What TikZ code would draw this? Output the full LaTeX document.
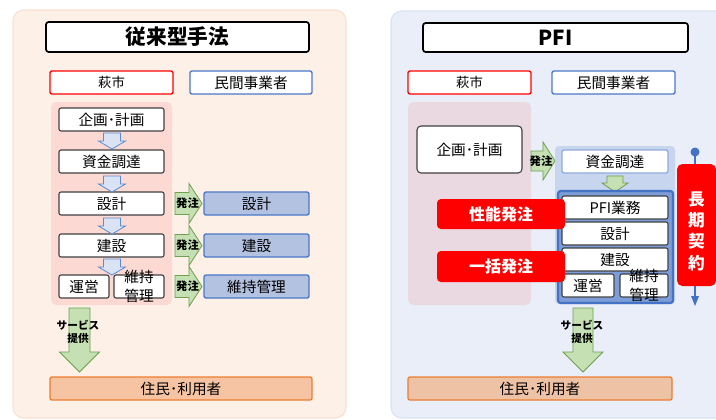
\documentclass[tikz,border=0pt]{standalone}
\usepackage{fontspec}
\setmainfont{Noto Sans CJK JP}
\usetikzlibrary{fit}
\definecolor{leftbg}{HTML}{FDF0E7}
\definecolor{leftbd}{HTML}{F9E0D0}
\definecolor{rightbg}{HTML}{E9EEF8}
\definecolor{rightbd}{HTML}{D9E2F3}
\definecolor{pinkL}{HTML}{FCD9D3}
\definecolor{pinkR}{HTML}{EAD9E0}
\definecolor{bluereg}{HTML}{C8D5EE}
\definecolor{arrblue}{HTML}{DAE3F3}
\definecolor{arrbluebd}{HTML}{5B8BD0}
\definecolor{grnfill}{HTML}{C5E0B3}
\definecolor{grnbd}{HTML}{6F9F50}
\definecolor{bboxfill}{HTML}{B4C2E1}
\definecolor{bboxbd}{HTML}{4A78C8}
\definecolor{orfill}{HTML}{F6C4A2}
\definecolor{orfillR}{HTML}{EEC2A4}
\definecolor{orbd}{HTML}{ED7D31}
\definecolor{frameblue}{HTML}{7C9DD7}
\definecolor{framebd}{HTML}{4472C4}
\definecolor{lightbd}{HTML}{8FAADC}
\definecolor{pfired}{HTML}{FF0000}
\definecolor{gbd}{HTML}{404040}
\newcommand\downarr[7]{\draw[#1] ({#2-#6},#3) -- ({#2+#6},#3) -- ({#2+#6},#4) -- ({#2+#7},#4) -- (#2,#5) -- ({#2-#7},#4) -- ({#2-#6},#4) -- cycle;}
\newcommand\rightarr[7]{\draw[#1] (#3,{#2-#6}) -- (#4,{#2-#6}) -- (#4,{#2-#7}) -- (#5,#2) -- (#4,{#2+#7}) -- (#4,{#2+#6}) -- (#3,{#2+#6}) -- cycle;}
% box: style, fit corners, name, text, text style
\newcommand\bx[5]{\node[#1, fit={#2}] (#3) {}; \node[#5] (#3t) at (#3.center) {#4};}
\tikzset{
  fitbox/.style={inner sep=0pt, outer sep=0pt},
  titlebox/.style={fitbox, draw=black, line width=1.3pt, fill=white, rounded corners=2pt},
  citybox/.style={fitbox, draw=pfired, line width=1pt, fill=white, rounded corners=1.5pt},
  privbox/.style={fitbox, draw=bboxbd, line width=1pt, fill=white, rounded corners=1.5pt},
  stepbox/.style={fitbox, draw=gbd, line width=0.8pt, fill=white, rounded corners=1.5pt},
  bluebox/.style={fitbox, draw=bboxbd, line width=1pt, fill=bboxfill, rounded corners=1.5pt},
  userbox/.style={fitbox, draw=orbd, line width=1pt, rounded corners=1.5pt},
  redbox/.style={fitbox, fill=pfired, rounded corners=3pt},
  ttl/.style={inner sep=0pt, font=\fontsize{15.5}{18}\selectfont\bfseries},
  txt/.style={inner sep=0pt, align=center, font=\fontsize{11}{13}\selectfont},
  txts/.style={inner sep=0pt, align=center, font=\fontsize{10}{12}\selectfont},
  txtm/.style={inner sep=0pt, align=center, font=\fontsize{11}{14}\selectfont},
  redtxt/.style={inner sep=0pt, text=white, font=\fontsize{12}{15}\selectfont\bfseries},
  smalllbl/.style={inner sep=0pt, font=\fontsize{8.5}{10}\selectfont\bfseries, align=center},
  svclbl/.style={inner sep=0pt, font=\fontsize{8}{9.8}\selectfont\bfseries, align=center},
  darr/.style={fill=arrblue, draw=arrbluebd, line width=0.6pt, line join=miter},
  garr/.style={fill=grnfill, draw=grnbd, line width=0.6pt, line join=miter},
}
\begin{document}
\begin{tikzpicture}[x=0.75pt, y=-0.75pt]
\useasboundingbox (0,0) rectangle (716,419);
% panels
\draw[fill=leftbg, draw=leftbd, line width=0.8pt, rounded corners=8pt] (13,10) rectangle (346,418);
\draw[fill=rightbg, draw=rightbd, line width=0.8pt, rounded corners=8pt] (391,11) rectangle (730,418);

% ===== LEFT =====
\bx{titlebox}{(46,22) (309,52)}{ltitle}{従来型手法}{ttl}
\bx{citybox}{(50,71) (173,94)}{lcity}{萩市}{txts}
\bx{privbox}{(190,71) (312,94)}{lpriv}{民間事業者}{txt}
\fill[pinkL, rounded corners=4pt] (51,102) rectangle (172,305);
\bx{stepbox}{(59,108) (164,131)}{lplan}{企画･計画}{txt}
\bx{stepbox}{(59,150) (164,173)}{lfund}{資金調達}{txt}
\bx{stepbox}{(59,192) (164,215)}{ldes}{設計}{txt}
\bx{stepbox}{(59,234) (164,257)}{lcon}{建設}{txt}
\bx{stepbox}{(59,275) (109,298)}{lop}{運営}{txt}
\bx{stepbox}{(114,275) (164,298)}{lmt}{維持\\管理}{txtm}
\downarr{darr}{112}{133}{141}{149}{8.5}{13.5}
\downarr{darr}{112}{176}{184}{192}{8.5}{13.5}
\downarr{darr}{112}{218}{226}{234}{8.5}{13.5}
\downarr{darr}{112}{259}{267}{275}{8.5}{13.5}
\rightarr{garr}{203.5}{175}{189}{202}{11}{20}
\rightarr{garr}{245.5}{175}{189}{202}{11}{20}
\rightarr{garr}{286.5}{175}{189}{202}{11}{20}
\node[smalllbl] (lord1) at (187.5,203) {発注};
\node[smalllbl] (lord2) at (187.5,245) {発注};
\node[smalllbl] (lord3) at (187.5,286) {発注};
\bx{bluebox}{(204,192) (309,215)}{pdes}{設計}{txt}
\bx{bluebox}{(204,234) (309,257)}{pcon}{建設}{txt}
\bx{bluebox}{(204,275) (309,298)}{pmt}{維持管理}{txt}
\downarr{garr}{79.5}{308}{352}{372}{10.5}{20}
\node[svclbl] (lsvc) at (78,332) {サービス\\提供};
\bx{userbox, fill=orfill}{(50,377) (312,400)}{lusers}{住民･利用者}{txt}

% ===== RIGHT =====
\bx{titlebox}{(423,23) (688,52)}{rtitle}{PFI}{ttl}
\bx{citybox}{(408,71) (531,94)}{rcity}{萩市}{txts}
\bx{privbox}{(552,71) (675,94)}{rpriv}{民間事業者}{txt}
\fill[pinkR, rounded corners=4pt] (408,102) rectangle (531,305);
\bx{stepbox, rounded corners=3pt}{(417,126) (522,173)}{rplan}{企画･計画}{txt}
\rightarr{garr}{161}{531}{543}{555}{10}{19}
\node[smalllbl] (rord) at (541,161) {発注};
\fill[bluereg, rounded corners=3pt] (555,146) rectangle (675,304);
\bx{fitbox, draw=lightbd, line width=1pt, fill=white, rounded corners=1.5pt}{(562,150) (668,173)}{rfund}{資金調達}{txt}
\downarr{garr}{615}{176}{183}{192}{8}{13}
\draw[fill=frameblue, draw=framebd, line width=1.6pt, rounded corners=2pt] (558,191) rectangle (673,303);
\bx{stepbox}{(562,196) (668,219)}{rpfi}{PFI業務}{txt}
\bx{stepbox}{(562,222) (668,245)}{rdes}{設計}{txt}
\bx{stepbox}{(562,248) (668,271)}{rcon}{建設}{txt}
\bx{stepbox}{(562,274) (614,297)}{rop}{運営}{txt}
\bx{stepbox}{(620,274) (668,297)}{rmt}{維持\\管理}{txtm}
\bx{redbox}{(437,199) (565,229)}{perf}{性能発注}{redtxt}
\bx{redbox}{(437,251) (565,282)}{bulk}{一括発注}{redtxt}
% long-term contract
\coordinate (ctop) at (695,152);
\coordinate (cbot) at (695,306);
\coordinate (cmid) at (695,297);
\draw[framebd, line width=1.3pt] (ctop) -- (cmid);
\fill[framebd] (ctop) circle (4.5);
\fill[framebd] (cbot) -- (691,296) -- (699,296) -- cycle;
\node[redbox, rounded corners=4pt, fit={(677,164) (716,286)}] (longc) {};
\node[inner sep=0pt, text=white, align=center, font=\fontsize{12.5}{16}\selectfont\bfseries] (longt) at (696.5,231) {長\\期\\契\\約};
\downarr{garr}{583}{308}{352}{372}{10}{20}
\node[svclbl] (rsvc) at (582,332) {サービス\\提供};
\bx{userbox, fill=orfillR}{(408,377) (672,400)}{rusers}{住民･利用者}{txt}
\end{tikzpicture}
\end{document}
